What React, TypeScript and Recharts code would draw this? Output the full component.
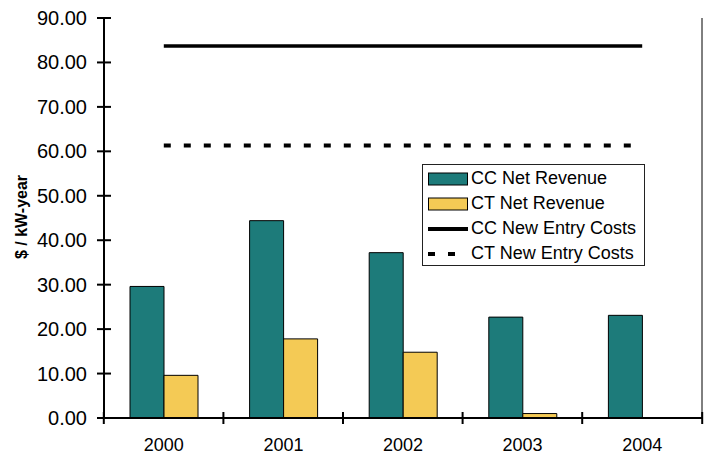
import {
  ComposedChart,
  XAxis,
  YAxis,
  Bar,
  Line,
  Legend,
} from "recharts";

const categories = ["2000", "2001", "2002", "2003", "2004"];
const ccNetRevenue = [29.6, 44.4, 37.2, 22.7, 23.1];
const ctNetRevenue = [9.6, 17.8, 14.8, 1.0, 0];
const ccNewEntryCosts = [83.7, 83.7, 83.7, 83.7, 83.7];
const ctNewEntryCosts = [61.3, 61.3, 61.3, 61.3, 61.3];
const yTicks = [0, 10, 20, 30, 40, 50, 60, 70, 80, 90];

const data = categories.map((year, i) => ({
  year,
  cc: ccNetRevenue[i],
  ct: ctNetRevenue[i],
  ccCost: ccNewEntryCosts[i],
  ctCost: ctNewEntryCosts[i],
}));

const FONT = "'Liberation Sans', Arial, sans-serif";
const TEAL = "#1d7b7a";
const YELLOW = "#f4ca55";
const PLOT_W = 600;
const HALF_BAND = PLOT_W / categories.length / 2;
const DASH = "7 13";

function XTick(props: any) {
  const { x, y, payload, index } = props;
  const last = index === categories.length - 1;
  return (
    <g>
      <line x1={x - HALF_BAND} x2={x - HALF_BAND} y1={y - 6} y2={y + 6} stroke="#000" strokeWidth={2} />
      {last && (
        <line x1={x + HALF_BAND} x2={x + HALF_BAND} y1={y - 6} y2={y + 6} stroke="#000" strokeWidth={2} />
      )}
      <text x={x} y={y + 33} textAnchor="middle" fontSize={18} fontFamily={FONT} fill="#000">
        {payload.value}
      </text>
    </g>
  );
}

function YTick(props: any) {
  const { x, y, payload } = props;
  return (
    <g>
      <line x1={x - 7} x2={x + 7} y1={y} y2={y} stroke="#000" strokeWidth={2} />
      <text x={x - 17} y={y + 7} textAnchor="end" fontSize={20} fontFamily={FONT} fill="#000">
        {payload.value.toFixed(2)}
      </text>
    </g>
  );
}

const legendItems = [
  { label: "CC Net Revenue", kind: "bar", color: TEAL },
  { label: "CT Net Revenue", kind: "bar", color: YELLOW },
  { label: "CC New Entry Costs", kind: "line", dash: undefined },
  { label: "CT New Entry Costs", kind: "line", dash: DASH },
];

function LegendBox() {
  return (
    <div
      style={{
        width: 216,
        height: 99,
        border: "1px solid #222",
        background: "#fff",
        padding: "1px 0 0 5px",
        boxSizing: "content-box",
        fontFamily: FONT,
        fontSize: 18,
        color: "#000",
      }}
    >
      {legendItems.map((item) => (
        <div key={item.label} style={{ display: "flex", alignItems: "center", height: 25 }}>
          <svg width={40} height={14} style={{ marginRight: 3 }}>
            {item.kind === "bar" ? (
              <rect x={0.5} y={1} width={39} height={12} fill={item.color} stroke="#000" strokeWidth={1} />
            ) : (
              <line x1={0} x2={40} y1={7} y2={7} stroke="#000" strokeWidth={4} strokeDasharray={item.dash} />
            )}
          </svg>
          <span style={{ whiteSpace: "nowrap" }}>{item.label}</span>
        </div>
      ))}
    </div>
  );
}

export default function App() {
  return (
    <div style={{ position: "absolute", left: 0, top: 0, background: "#fff" }}>
      <ComposedChart
        width={706}
        height={456}
        data={data}
        barGap={0}
        margin={{ top: 18, right: 2, bottom: 0, left: 0 }}
      >
        <XAxis
          dataKey="year"
          height={38}
          interval={0}
          tickSize={0}
          tickMargin={0}
          tickLine={false}
          axisLine={{ stroke: "#000", strokeWidth: 2 }}
          tick={<XTick />}
        />
        <XAxis
          xAxisId="top"
          dataKey="year"
          orientation="top"
          height={0}
          tick={false}
          tickLine={false}
          axisLine={{ stroke: "#000", strokeWidth: 1 }}
        />
        <YAxis
          domain={[0, 90]}
          ticks={yTicks}
          width={104}
          tickSize={0}
          tickMargin={0}
          tickLine={false}
          axisLine={{ stroke: "#000", strokeWidth: 2 }}
          tick={<YTick />}
          label={{
            content: () => (
              <text
                x={21}
                y={217}
                transform="rotate(-90, 21, 217)"
                textAnchor="middle"
                dominantBaseline="central"
                fontSize={16}
                fontWeight="bold"
                fontFamily={FONT}
                fill="#000"
              >
                $ / kW-year
              </text>
            ),
          }}
        />
        <YAxis
          yAxisId="right"
          orientation="right"
          width={2}
          tick={false}
          tickLine={false}
          axisLine={{ stroke: "#000", strokeWidth: 1 }}
        />
        <Legend
          layout="horizontal"
          verticalAlign="middle"
          align="center"
          content={<LegendBox />}
          wrapperStyle={{ position: "absolute", left: 422, top: 164, width: "auto" }}
        />
        <Bar dataKey="cc" name="CC Net Revenue" fill={TEAL} stroke="#000" strokeWidth={1} barSize={34} isAnimationActive={false} />
        <Bar dataKey="ct" name="CT Net Revenue" fill={YELLOW} stroke="#000" strokeWidth={1} barSize={34} isAnimationActive={false} />
        <Line dataKey="ccCost" name="CC New Entry Costs" stroke="#000" strokeWidth={3.5} dot={false} isAnimationActive={false} />
        <Line dataKey="ctCost" name="CT New Entry Costs" stroke="#000" strokeWidth={4} strokeDasharray={DASH} dot={false} isAnimationActive={false} />
      </ComposedChart>
    </div>
  );
}
